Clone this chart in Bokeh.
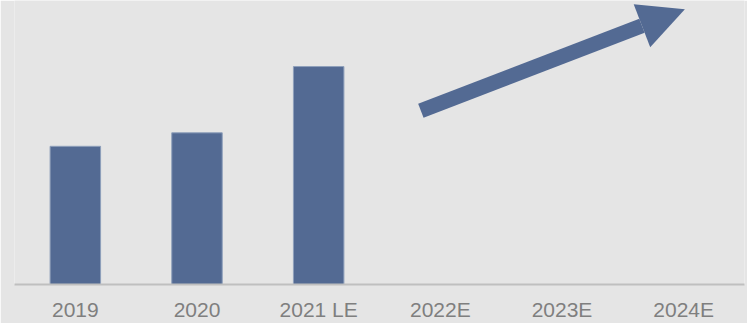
from bokeh.plotting import figure
from bokeh.models import Range1d, FactorRange, Arrow, NormalHead, ColumnDataSource
from bokeh.embed import file_html
from bokeh.resources import INLINE

categories = ["2019", "2020", "2021 LE", "2022E", "2023E", "2024E"]
bar_cats = ["2019", "2020", "2021 LE"]
bar_values = [6.34, 6.96, 10.0]

# trend arrow (synthetic categorical x, value y)
arrow_x = [3.34, 5.51]
arrow_y = [7.97, 12.63]

BG = "#e5e5e5"
BAR = "#536a93"

p = figure(width=747, height=323, output_backend="svg", toolbar_location=None,
           x_range=FactorRange(*categories), y_range=Range1d(0, 13.03),
           min_border_left=14, min_border_right=3, min_border_top=0, min_border_bottom=34)

p.background_fill_color = BG
p.border_fill_color = BG
p.outline_line_color = None
p.grid.visible = False
p.yaxis.visible = False

src = ColumnDataSource(dict(x=bar_cats, top=bar_values))
p.vbar(x="x", top="top", width=0.415, bottom=0, source=src,
       fill_color=BAR, line_color="#8fa0bb", line_width=1)

p.add_layout(Arrow(end=NormalHead(size=46, fill_color=BAR, line_color=BAR, line_width=0),
                   x_start=arrow_x[0], y_start=arrow_y[0],
                   x_end=arrow_x[1], y_end=arrow_y[1],
                   line_color=BAR, line_width=15, line_cap="butt"))

ax = p.xaxis[0]
ax.axis_line_color = "#bfbfbf"
ax.axis_line_width = 2
ax.major_tick_line_color = None
ax.minor_tick_line_color = None
ax.major_tick_out = 0
ax.major_tick_in = 0
ax.major_label_standoff = 13
ax.major_label_text_font = "Liberation Sans"
ax.major_label_text_font_size = "21px"
ax.major_label_text_color = "#7f7f7f"

open("out.html", "w").write(file_html(p, INLINE))
